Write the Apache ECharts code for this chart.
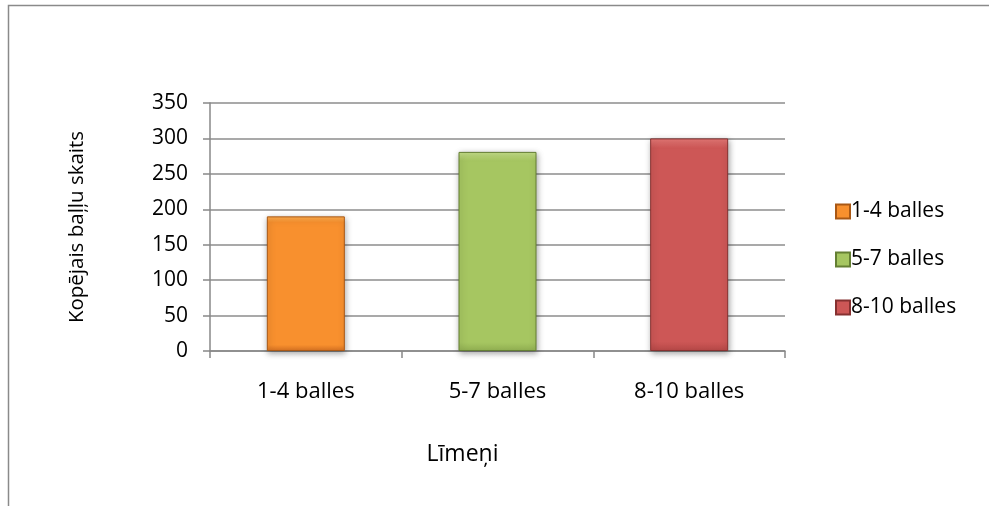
<!DOCTYPE html>
<html>
<head>
<meta charset="utf-8">
<script src="https://cdn.jsdelivr.net/npm/echarts@6/dist/echarts.min.js"></script>
<style>
  html, body { margin: 0; padding: 0; background: #fff; }
  #chart { width: 989px; height: 506px; }
</style>
</head>
<body>
<div id="chart"></div>
<script>
// Level categories and total points per level
const categories = ['1-4 balles', '5-7 balles', '8-10 balles'];
const seriesNames = ['1-4 balles', '5-7 balles', '8-10 balles'];
const values = [190, 281, 300];
const yTicks = { min: 0, max: 350, interval: 50 };

// Fill gradients per level (top -> bottom), plus edge colour
const palettes = [
  { top: '#FFB050', mid: '#F8902E', bottom: '#D87222', edge: '#A95815' },
  { top: '#C6E08A', mid: '#A6C661', bottom: '#93B253', edge: '#647F33' },
  { top: '#E87A78', mid: '#CD5756', bottom: '#B84948', edge: '#863130' }
];

const font = '"Open Sans", Lato, sans-serif';

const series = seriesNames.map((name, i) => {
  const p = palettes[i];
  const data = categories.map((c, j) => (j === i ? values[i] : null));
  return {
    name: name,
    type: 'bar',
    data: data,
    barWidth: 78,
    barGap: '-100%',
    itemStyle: {
      color: {
        type: 'linear', x: 0, y: 0, x2: 0, y2: 1,
        colorStops: [
          { offset: 0, color: p.top },
          { offset: 0.045, color: p.mid },
          { offset: 0.955, color: p.mid },
          { offset: 1, color: p.bottom }
        ]
      },
      borderColor: p.edge,
      borderWidth: 1,
      shadowColor: 'rgba(0,0,0,0.35)',
      shadowBlur: 6,
      shadowOffsetX: 1,
      shadowOffsetY: 2
    }
  };
});

const chart = echarts.init(document.getElementById('chart'), null, { renderer: 'canvas' });
chart.setOption({
  animation: false,
  backgroundColor: '#fff',
  graphic: [{
    type: 'rect',
    shape: { x: 8.5, y: 5.5, width: 1000, height: 520 },
    style: { fill: 'none', stroke: '#8a8a8a', lineWidth: 1.5 },
    silent: true
  }],
  grid: { left: 210, right: 204, top: 103, bottom: 155, containLabel: false },
  legend: {
    orient: 'vertical',
    left: 830,
    top: 196,
    itemGap: 27,
    itemWidth: 14,
    itemHeight: 14,
    icon: 'rect',
    textStyle: { fontFamily: font, fontSize: 21, color: '#000', padding: [0, 0, 0, -4] },
    data: seriesNames
  },
  xAxis: {
    type: 'category',
    data: categories,
    name: 'Līmeņi',
    nameLocation: 'middle',
    nameGap: 92,
    nameTextStyle: { fontFamily: font, fontSize: 23, color: '#000', padding: [0, 70, 0, 0] },
    axisLine: { lineStyle: { color: '#888', width: 1.5 } },
    axisTick: { show: true, length: 7, lineStyle: { color: '#888', width: 1.5 } },
    axisLabel: { fontFamily: font, fontSize: 22, color: '#000', margin: 30 }
  },
  yAxis: {
    type: 'value',
    min: yTicks.min,
    max: yTicks.max,
    interval: yTicks.interval,
    name: 'Kopējais baļļu skaits',
    nameLocation: 'middle',
    nameGap: 122,
    nameTextStyle: { fontFamily: font, fontSize: 20.5, color: '#000' },
    axisLine: { show: true, lineStyle: { color: '#888', width: 1.5 } },
    axisTick: { show: true, length: 7, lineStyle: { color: '#888', width: 1.5 } },
    axisLabel: { fontFamily: font, fontSize: 21, color: '#000', margin: 22 },
    splitLine: { lineStyle: { color: '#8c8c8c', width: 1.5 } }
  },
  series: series
});
</script>
</body>
</html>
